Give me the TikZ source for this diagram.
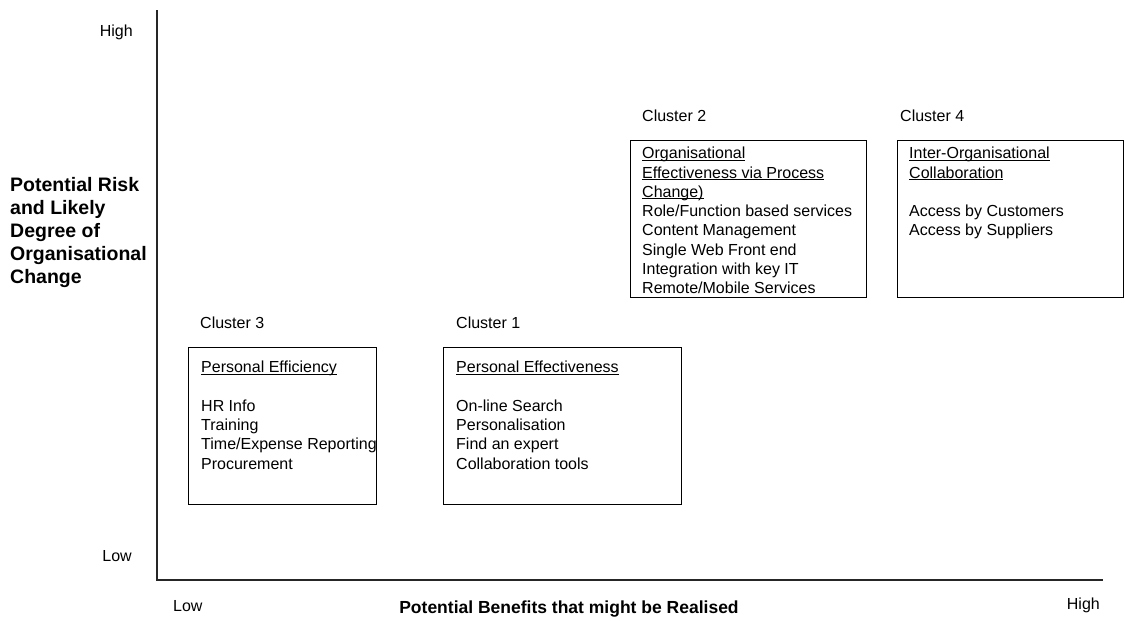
\documentclass[tikz,border=0pt]{standalone}
\usepackage{fontspec}
\setmainfont{Liberation Sans}
\newcommand\ulin[1]{\setbox0\hbox{#1}\rlap{\rule[-1.8pt]{\wd0}{0.8pt}}\box0}

\begin{document}
\begin{tikzpicture}[x=1pt, y=-1pt,
    every node/.style={inner sep=0pt},
    lbl/.style={font=\fontsize{16}{19.3}\selectfont},
    ttl/.style={font=\fontsize{19.5}{23}\selectfont\bfseries},
    clusterbox/.style={draw, line width=1pt, anchor=north west, minimum height=157},
    items/.style={lbl, align=left, anchor=north west}]
  \useasboundingbox (0,0) rectangle (1125,621);

  % axes
  \coordinate (top) at (157,10);
  \coordinate (origin) at (157,580);
  \coordinate (right) at (1103,580);
  \draw[line width=1.3pt, black!85] (top) -- (origin) -- (right);

  \node[lbl, anchor=base east] (yhigh) at (133,36) {High};
  \node[lbl, anchor=base east] (ylow) at (132,561) {Low};
  \node[lbl, anchor=base west] (xlow) at (173,611) {Low};
  \node[lbl, anchor=base east] (xhigh) at (1100,609) {High};
  \node[ttl, align=left, anchor=north west] (ytitle) at (10,177)
    {Potential Risk\\and Likely\\Degree of\\Organisational\\Change};
  \node[ttl, font=\fontsize{17.5}{21}\selectfont\bfseries, anchor=base] (xtitle) at (569,613)
    {Potential Benefits that might be Realised};

  % clusters
  \node[clusterbox, minimum width=188] (box3) at (188,347) {};
  \node[clusterbox, minimum width=238] (box1) at (443,347) {};
  \node[clusterbox, minimum width=236] (box2) at (630,140) {};
  \node[clusterbox, minimum width=226] (box4) at (897,140) {};

  \node[lbl, anchor=base west] (c3) at (200,328) {Cluster 3};
  \node[lbl, anchor=base west] (c1) at (456,328) {Cluster 1};
  \node[lbl, anchor=base west] (c2) at (642,121) {Cluster 2};
  \node[lbl, anchor=base west] (c4) at (900,121) {Cluster 4};

  \node[items] (list3) at ([shift={(13,14)}]box3.north west)
    {\ulin{Personal Efficiency}\\[19.3pt]HR Info\\Training\\Time/Expense Reporting\\Procurement};
  \node[items] (list1) at ([shift={(13,14)}]box1.north west)
    {\ulin{Personal Effectiveness}\\[19.3pt]On-line Search\\Personalisation\\Find an expert\\Collaboration tools};
  \node[items] (list2) at ([shift={(12,7)}]box2.north west)
    {\ulin{Organisational}\\\ulin{Effectiveness via Process}\\\ulin{Change)}\\Role/Function based services\\Content Management\\Single Web Front end\\Integration with key IT\\Remote/Mobile Services};
  \node[items] (list4) at ([shift={(12,7)}]box4.north west)
    {\ulin{Inter-Organisational}\\\ulin{Collaboration}\\[19.3pt]Access by Customers\\Access by Suppliers};
\end{tikzpicture}
\end{document}
